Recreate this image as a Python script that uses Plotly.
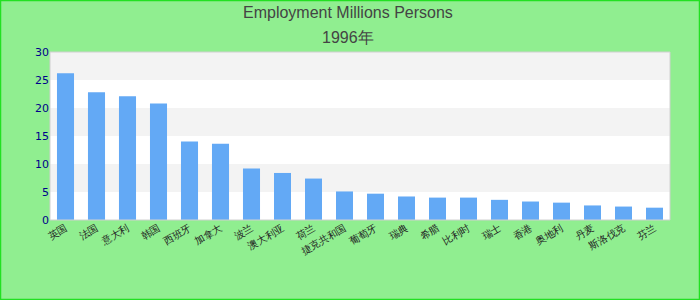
import plotly.graph_objects as go

countries = ["英国", "法国", "意大利", "韩国", "西班牙", "加拿大", "波兰", "澳大利亚", "荷兰", "捷克共和国",
             "葡萄牙", "瑞典", "希腊", "比利时", "瑞士", "香港", "奥地利", "丹麦", "斯洛伐克", "芬兰"]
employment = [26.2, 22.8, 22.1, 20.8, 14.0, 13.6, 9.2, 8.4, 7.4, 5.1,
              4.7, 4.2, 4.0, 4.0, 3.6, 3.3, 3.1, 2.6, 2.4, 2.2]
y_ticks = [0, 5, 10, 15, 20, 25, 30]
title = "Employment Millions Persons"
subtitle = "1996年"

fig = go.Figure(go.Bar(x=countries, y=employment, marker_color="#63a9f5",
                       marker_line_width=0))

# alternating bands
shapes = []
for lo, hi in [(5, 10), (15, 20), (25, 30)]:
    shapes.append(dict(type="rect", xref="paper", yref="y", x0=0, x1=1, y0=lo, y1=hi,
                       fillcolor="#f3f3f3", line_width=0, layer="below"))
# plot border
shapes.append(dict(type="rect", xref="paper", yref="paper", x0=0, x1=1, y0=0, y1=1,
                   line=dict(color="#d0d0d0", width=1), fillcolor="rgba(0,0,0,0)"))
# outer page border
W, H = 620, 168
shapes.append(dict(type="rect", xref="paper", yref="paper",
                   x0=-49.5 / W, x1=(W + 29.5) / W, y0=-79.5 / H, y1=(H + 51.5) / H,
                   line=dict(color="#22e022", width=1.5), fillcolor="rgba(0,0,0,0)"))

title_font = dict(family="Liberation Sans, Arial, sans-serif", size=16, color="#444444")
cx = (348 - 50) / W
fig.update_layout(
    width=700, height=300,
    margin=dict(l=50, r=30, t=52, b=80),
    paper_bgcolor="#90ee90", plot_bgcolor="#ffffff",
    shapes=shapes,
    bargap=0.45,
    showlegend=False,
    annotations=[
        dict(text=title, xref="paper", yref="paper", x=cx, y=(H + 52 - 13) / H,
             showarrow=False, yanchor="middle", xanchor="center", font=title_font),
        dict(text=subtitle, xref="paper", yref="paper", x=cx, y=(H + 52 - 37) / H,
             showarrow=False, yanchor="middle", xanchor="center", font=title_font),
    ],
)
fig.update_xaxes(tickangle=-30, tickfont=dict(size=10, color="#222222"),
                 showgrid=False, showline=False, ticks="", automargin=False)
fig.update_yaxes(range=[0, 30], tickvals=y_ticks, showgrid=False, zeroline=False,
                 tickfont=dict(family="DejaVu Sans, sans-serif", size=11, color="#00008b"),
                 ticks="", automargin=False)

fig.write_html("out.html")
